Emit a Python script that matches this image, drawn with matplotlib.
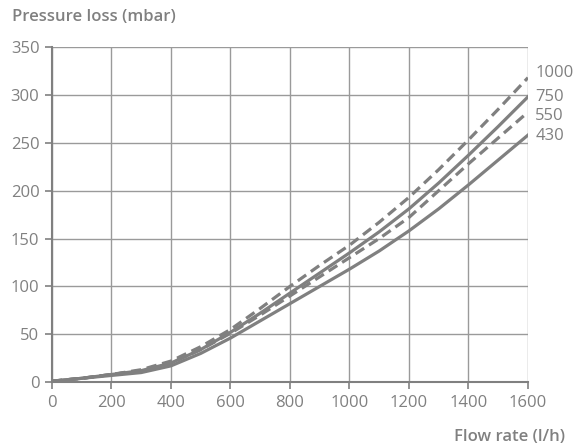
import numpy as np
import matplotlib.pyplot as plt

plt.rcParams['font.family'] = ['Open Sans', 'DejaVu Sans']

flow = [0, 100, 200, 300, 400, 500, 600, 700, 800, 900, 1000, 1100, 1200, 1300, 1400, 1500, 1600]
loss_430 = [1, 4, 7, 10, 17, 30, 46, 64, 82, 100, 118, 137, 158, 181, 206, 232, 258]
loss_550 = [1, 4, 8, 12, 20, 34, 51, 70, 90, 110, 130, 150, 172, 200, 228, 255, 282]
loss_750 = [1, 4, 8, 12, 20, 34, 52, 72, 93, 114, 135, 157, 181, 208, 237, 267, 298]
loss_1000 = [1, 4, 8, 13, 22, 37, 55, 77, 100, 122, 143, 167, 193, 222, 253, 285, 318]

series = [("1000", loss_1000, "dash", 5), ("750", loss_750, "solid", 0),
          ("550", loss_550, "dash", -4), ("430", loss_430, "solid", -1)]

grey = "#808080"

fig = plt.figure(figsize=(5.77, 4.48), dpi=100)
ax = fig.add_axes([0.090, 0.147, 0.825, 0.748])

for name, vals, style, off in series:
    if style == "dash":
        ax.plot(flow, vals, color=grey, lw=2.3, dashes=(3.2, 1.8), solid_capstyle="butt")
    else:
        ax.plot(flow, vals, color=grey, lw=2.3)
    ax.text(1625, vals[-1] + off, name, color=grey, fontsize=12, va="center", ha="left")

ax.set_xlim(0, 1600)
ax.set_ylim(0, 350)
ax.set_xticks(range(0, 1601, 200))
ax.set_yticks(range(0, 351, 50))
ax.grid(True, color="#9a9a9a", lw=1)
ax.set_axisbelow(True)
for s in ["top", "right"]:
    ax.spines[s].set_visible(False)
for s in ["left", "bottom"]:
    ax.spines[s].set_color(grey)
    ax.spines[s].set_linewidth(1.5)
ax.tick_params(colors=grey, labelsize=12, length=5, width=1.2, labelcolor=grey, pad=4)

fig.text(0.021, 0.962, "Pressure loss (mbar)", color=grey, fontsize=12,
         fontweight="semibold", va="center", ha="left")
fig.text(0.98, 0.025, "Flow rate (l/h)", color=grey, fontsize=12,
         fontweight="semibold", va="center", ha="right")

fig.savefig("out.png", dpi=100)
